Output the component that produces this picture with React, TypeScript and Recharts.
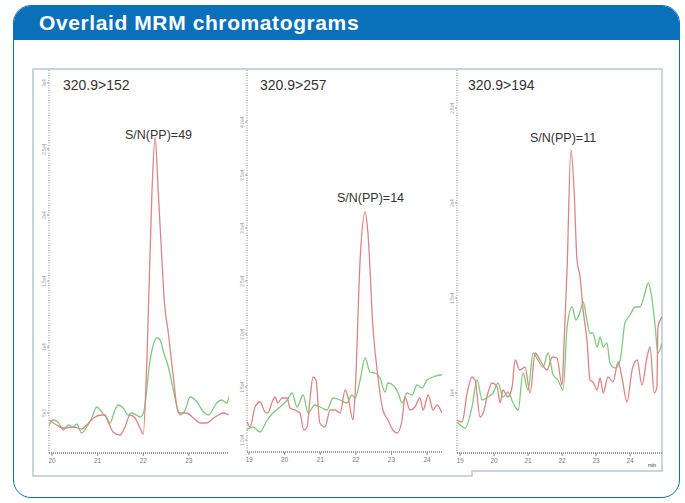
import { LineChart, Line, XAxis, YAxis } from "recharts";

const BLUE = "#0a70b9";
const RED = "#dd8585";
const GREEN = "#80c980";
const FONT = "'Liberation Sans', Arial, sans-serif";

// panel 1: 320.9>152
const p1RedTime = [19.94, 20.1, 20.25, 20.47, 20.65, 20.76, 20.91, 21.09, 21.16, 21.23, 21.34, 21.49, 21.6, 21.71, 21.82, 21.93, 22.0, 22.08, 22.19, 22.26, 22.33, 22.41, 22.46, 22.55, 22.66, 22.77, 22.84, 22.95, 23.1, 23.25, 23.39, 23.54, 23.65, 23.76, 23.87];
const p1RedCounts = [33, 28, 25, 26, 24, 28, 35, 38, 38, 31, 21, 18, 26, 38, 35, 25, 19, 93, 260, 316, 260, 193, 153, 120, 76, 40, 40, 40, 35, 30, 30, 35, 38, 40, 38];
const p1GreenTime = [19.94, 20.02, 20.13, 20.25, 20.36, 20.47, 20.54, 20.65, 20.76, 20.87, 20.98, 21.09, 21.2, 21.27, 21.38, 21.45, 21.56, 21.67, 21.74, 21.85, 21.93, 22.01, 22.15, 22.3, 22.37, 22.45, 22.55, 22.66, 22.73, 22.81, 22.92, 23.03, 23.18, 23.32, 23.43, 23.61, 23.72, 23.83, 23.89];
const p1GreenCounts = [28, 33, 31, 23, 28, 26, 29, 20, 26, 35, 46, 41, 35, 30, 43, 48, 45, 38, 40, 38, 36, 41, 93, 115, 113, 100, 86, 63, 48, 38, 43, 56, 51, 41, 38, 50, 53, 50, 58];
const p1XTicks = [20, 21, 22, 23];
const p1YTicks = [40, 106, 172, 238, 304, 370];
const p1YLabels = ["5e3", "1e4", "1.5e4", "2e4", "2.5e4", "3e4"];

// panel 2: 320.9>257
const p2RedTime = [18.95, 19.03, 19.17, 19.31, 19.45, 19.53, 19.65, 19.73, 19.81, 19.93, 20.07, 20.15, 20.29, 20.43, 20.54, 20.63, 20.71, 20.8, 20.88, 20.99, 21.13, 21.28, 21.42, 21.56, 21.7, 21.78, 21.92, 21.98, 22.12, 22.26, 22.34, 22.48, 22.62, 22.76, 22.9, 23.04, 23.16, 23.3, 23.38, 23.52, 23.66, 23.8, 23.89, 24.03, 24.17, 24.28, 24.42];
const p2RedCounts = [30, 25, 45, 50, 40, 39, 50, 55, 49, 54, 54, 44, 42, 39, 22, 25, 52, 75, 72, 29, 25, 42, 42, 39, 62, 55, 32, 59, 192, 240, 219, 125, 75, 42, 32, 22, 19, 32, 55, 42, 45, 54, 42, 57, 42, 47, 39];
const p2GreenTime = [18.94, 19.11, 19.31, 19.51, 19.67, 19.87, 20.07, 20.21, 20.35, 20.52, 20.66, 20.85, 21.05, 21.19, 21.36, 21.56, 21.75, 21.89, 21.98, 22.12, 22.26, 22.4, 22.54, 22.68, 22.82, 22.9, 23.04, 23.19, 23.3, 23.44, 23.58, 23.72, 23.86, 24.0, 24.17, 24.37, 24.42];
const p2GreenCounts = [22, 25, 20, 32, 39, 45, 52, 59, 45, 57, 39, 47, 44, 42, 54, 52, 49, 57, 54, 72, 94, 80, 79, 74, 60, 69, 67, 59, 49, 59, 57, 67, 64, 72, 75, 77, 77];
const p2XTicks = [19, 20, 21, 22, 23, 24];
const p2YTicks = [12, 65, 118, 171, 224, 277, 330];
const p2YLabels = ["1.0e4", "1.5e4", "2.0e4", "2.5e4", "3.0e4", "3.5e4", "4.0e4"];

// panel 3: 320.9>194
const p3RedTime = [18.91, 19.06, 19.21, 19.35, 19.44, 19.59, 19.68, 19.82, 19.94, 20.09, 20.18, 20.26, 20.41, 20.53, 20.62, 20.76, 20.91, 21.06, 21.21, 21.35, 21.56, 21.71, 21.85, 22.0, 22.06, 22.15, 22.26, 22.35, 22.44, 22.53, 22.62, 22.74, 22.82, 22.91, 23.03, 23.12, 23.21, 23.35, 23.5, 23.65, 23.76, 23.91, 24.06, 24.21, 24.35, 24.5, 24.59, 24.71, 24.79, 24.82, 24.94];
const p3RedCounts = [33, 31, 60, 76, 73, 36, 40, 60, 70, 66, 50, 63, 56, 66, 93, 83, 86, 60, 100, 93, 83, 96, 95, 68, 110, 186, 303, 266, 193, 176, 143, 110, 73, 71, 63, 75, 60, 76, 71, 91, 76, 51, 83, 93, 68, 96, 106, 60, 66, 126, 136];
const p3GreenTime = [18.91, 19.15, 19.35, 19.5, 19.65, 19.82, 19.97, 20.12, 20.26, 20.41, 20.56, 20.71, 20.85, 21.0, 21.15, 21.29, 21.44, 21.59, 21.74, 21.88, 22.03, 22.15, 22.29, 22.41, 22.53, 22.62, 22.74, 22.82, 22.91, 23.03, 23.12, 23.21, 23.32, 23.41, 23.56, 23.71, 23.85, 24.0, 24.15, 24.29, 24.44, 24.53, 24.65, 24.74, 24.82, 24.94];
const p3GreenCounts = [31, 25, 46, 73, 53, 56, 60, 70, 56, 61, 50, 43, 80, 63, 100, 93, 86, 100, 78, 73, 63, 126, 146, 133, 141, 151, 131, 120, 120, 106, 116, 106, 110, 90, 85, 93, 130, 138, 146, 146, 160, 170, 153, 126, 100, 110];
const p3XTicks = [19, 20, 21, 22, 23, 24];
const p3YTicks = [60, 155, 250, 345];
const p3YLabels = ["1e4", "1.5e4", "2e4", "2.5e4"];

const toPoints = (time: number[], counts: number[]) =>
  time.map((t, i) => ({ t, v: counts[i] }));

type PanelProps = {
  plotLeft: number;
  plotRight: number;
  plotBottom: number;
  xDomain: [number, number];
  xTicks: number[];
  yTicks: number[];
  yLabels: string[];
  red: { t: number; v: number }[];
  green: { t: number; v: number }[];
};

const PLOT_TOP = 70;
const AXIS_W = 22;
const AXIS_H = 22;

function ChromPanel({ plotLeft, plotRight, plotBottom, xDomain, xTicks, yTicks, yLabels, red, green }: PanelProps) {
  const left = plotLeft - AXIS_W;
  const top = PLOT_TOP - 8;
  const width = plotRight - left + 4;
  const height = plotBottom - top + AXIS_H;

  const yTick = (props: any) => {
    const { x, y, payload } = props;
    const idx = yTicks.indexOf(payload.value);
    return (
      <text
        x={x + 1}
        y={y}
        transform={`rotate(-90 ${x + 1} ${y})`}
        textAnchor="middle"
        fontSize={4.5}
        fill="#999"
        fontFamily={FONT}
      >
        {yLabels[idx] ?? ""}
      </text>
    );
  };

  return (
    <div style={{ position: "absolute", left, top }}>
      <LineChart width={width} height={height} margin={{ top: 8, right: 4, left: 0, bottom: 0 }}>
        <XAxis
          type="number"
          dataKey="t"
          domain={xDomain}
          ticks={xTicks}
          allowDataOverflow
          height={AXIS_H}
          tickSize={3}
          tickMargin={2}
          axisLine={{ stroke: "#7a7a7a", strokeWidth: 1.6, strokeDasharray: "1 1" }}
          tickLine={{ stroke: "#888" }}
          tick={{ fontSize: 6.5, fill: "#777", fontFamily: FONT }}
        />
        <YAxis
          type="number"
          domain={[0, plotBottom - PLOT_TOP]}
          ticks={yTicks}
          allowDataOverflow
          width={AXIS_W}
          tickSize={2}
          axisLine={{ stroke: "#8a8a8a", strokeWidth: 1, strokeDasharray: "1 1.5" }}
          tickLine={{ stroke: "#999" }}
          tick={yTick}
        />
        <Line
          data={green}
          dataKey="v"
          type="monotone"
          stroke={GREEN}
          strokeWidth={1.3}
          dot={false}
          isAnimationActive={false}
        />
        <Line
          data={red}
          dataKey="v"
          type="monotone"
          stroke={RED}
          strokeWidth={1.3}
          dot={false}
          isAnimationActive={false}
        />
      </LineChart>
    </div>
  );
}

function Note({ left, top, size, children }: { left: number; top: number; size: number; children: string }) {
  return (
    <div
      style={{
        position: "absolute",
        left,
        top,
        fontSize: size,
        lineHeight: 1,
        fontFamily: FONT,
        color: "#333",
        whiteSpace: "nowrap",
      }}
    >
      {children}
    </div>
  );
}

export default function App() {
  return (
    <div
      style={{
        position: "absolute",
        left: 0,
        top: 0,
        width: 685,
        height: 503,
        background: "#fff",
        fontFamily: FONT,
        overflow: "hidden",
      }}
    >
      {/* outer blue frame with header */}
      <div
        style={{
          position: "absolute",
          left: 13,
          top: 5,
          width: 667,
          height: 493,
          boxSizing: "border-box",
          border: `1.5px solid ${BLUE}`,
          borderRadius: 18,
          overflow: "hidden",
        }}
      >
        <div style={{ height: 34, background: BLUE }} />
      </div>
      <div
        style={{
          position: "absolute",
          left: 39,
          top: 12,
          fontSize: 21,
          lineHeight: "21px",
          fontWeight: 700,
          letterSpacing: 0.6,
          color: "#fff",
          whiteSpace: "nowrap",
        }}
      >
        Overlaid MRM chromatograms
      </div>

      {/* light frame around the screenshot panels */}
      <svg width={685} height={503} style={{ position: "absolute", left: 0, top: 0, pointerEvents: "none" }}>
        <path d="M33,69 H662 V471 H472 V476 H33 Z" fill="none" stroke="#b9c8dc" strokeWidth={1.5} />
      </svg>

      <ChromPanel
        plotLeft={49}
        plotRight={229}
        plotBottom={453}
        xDomain={[19.934, 23.88]}
        xTicks={p1XTicks}
        yTicks={p1YTicks}
        yLabels={p1YLabels}
        red={toPoints(p1RedTime, p1RedCounts)}
        green={toPoints(p1GreenTime, p1GreenCounts)}
      />
      <ChromPanel
        plotLeft={247}
        plotRight={442}
        plotBottom={452}
        xDomain={[18.944, 24.42]}
        xTicks={p2XTicks}
        yTicks={p2YTicks}
        yLabels={p2YLabels}
        red={toPoints(p2RedTime, p2RedCounts)}
        green={toPoints(p2GreenTime, p2GreenCounts)}
      />
      <ChromPanel
        plotLeft={457}
        plotRight={662}
        plotBottom={453}
        xDomain={[18.91, 24.94]}
        xTicks={p3XTicks}
        yTicks={p3YTicks}
        yLabels={p3YLabels}
        red={toPoints(p3RedTime, p3RedCounts)}
        green={toPoints(p3GreenTime, p3GreenCounts)}
      />

      <Note left={63} top={78} size={14}>320.9&gt;152</Note>
      <Note left={125} top={129} size={12.5}>S/N(PP)=49</Note>
      <Note left={260} top={78} size={14}>320.9&gt;257</Note>
      <Note left={337} top={192} size={12.5}>S/N(PP)=14</Note>
      <Note left={468} top={78} size={14}>320.9&gt;194</Note>
      <Note left={530} top={132} size={12.5}>S/N(PP)=11</Note>
      <Note left={648} top={463} size={5}>min</Note>
    </div>
  );
}
